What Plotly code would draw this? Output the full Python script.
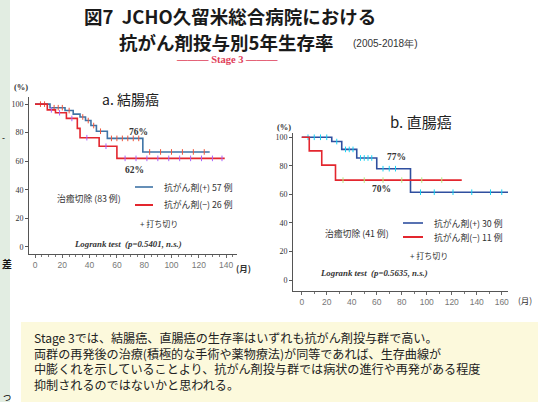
import plotly.graph_objects as go

W, H = 538, 402

# ---------------- data ----------------
# a. 結腸癌 (colon)
colon_pos_t = [0, 11, 22, 28, 33, 37, 41, 45, 53, 79, 128]
colon_pos_s = [100, 97.5, 95.5, 93, 91, 88.5, 85, 81, 76, 66.5, 66.5]
colon_pos_cens = [4, 7, 14, 17, 20, 25, 35, 39, 43, 48, 56, 60, 64, 68, 72, 76, 84, 92, 100, 108, 116, 124]
colon_neg_t = [0, 9, 15, 23, 31, 33, 47, 60, 139]
colon_neg_s = [100, 96, 94, 90, 83, 76.5, 70.5, 62, 62]
colon_neg_cens = [12, 18, 27, 38, 52, 66, 74, 82, 90, 98, 106, 114, 122, 130, 137]

# b. 直腸癌 (rectum)
rect_pos_t = [0, 24, 32, 44, 60, 87, 169]
rect_pos_s = [100, 97, 91.5, 85.5, 78, 61.5, 61.5]
rect_pos_cens = [5, 10, 15, 20, 28, 35, 38, 41, 47, 50, 53, 56, 65, 70, 75, 95, 106, 121, 136, 151, 160]
rect_neg_t = [0, 6, 16, 27, 128]
rect_neg_s = [100, 90.5, 80.5, 70, 70]
rect_neg_cens = [33, 50, 65, 80, 96, 112]

y_ticks = [0, 20, 40, 60, 80, 100]
colon_x_ticks = [0, 20, 40, 60, 80, 100, 120, 140]
rect_x_ticks = [0, 20, 40, 60, 80, 100, 120, 140, 160]

note_lines = [
    "Stage 3では、結腸癌、直腸癌の生存率はいずれも抗がん剤投与群で高い。",
    "両群の再発後の治療(積極的な手術や薬物療法)が同等であれば、生存曲線が",
    "中膨くれを示していることより、抗がん剤投与群では病状の進行や再発がある程度",
    "抑制されるのではないかと思われる。",
]

BLUE_A = "#3f74a6"
BLUE_B = "#2f4f9f"
RED = "#e3262e"


def px(x):
    return x / W


def py(y):
    return 1 - y / H


def surv_at(ts, ss, times):
    out = []
    for t in times:
        idx = max(i for i, v in enumerate(ts) if v <= t)
        out.append(ss[idx])
    return out


fig = go.Figure()


def add_group(t, s, cens, color, xa, ya):
    fig.add_trace(go.Scatter(x=t, y=s, mode="lines", line=dict(shape="hv", color=color, width=1.6),
                             xaxis=xa, yaxis=ya, showlegend=False, hoverinfo="skip"))
    fig.add_trace(go.Scatter(x=cens, y=surv_at(t, s, cens), mode="markers",
                             marker=dict(symbol="line-ns-open", size=4, line=dict(color=color, width=1)),
                             xaxis=xa, yaxis=ya, showlegend=False, hoverinfo="skip"))


add_group(colon_pos_t, colon_pos_s, colon_pos_cens, BLUE_A, "x", "y")
add_group(colon_neg_t, colon_neg_s, colon_neg_cens, RED, "x", "y")
add_group(rect_pos_t, rect_pos_s, rect_pos_cens, BLUE_B, "x2", "y2")
add_group(rect_neg_t, rect_neg_s, rect_neg_cens, RED, "x2", "y2")

tickfont_y = dict(family="Liberation Serif", size=8, color="#333")
tickfont_x = dict(family="Liberation Sans", size=8.5, color="#777")

common_y = dict(tickvals=y_ticks, ticks="outside", ticklen=3, tickcolor="#555", showline=True,
                linecolor="#555", linewidth=1, showgrid=False, zeroline=False, tickfont=tickfont_y)
common_x = dict(ticks="outside", ticklen=3, tickcolor="#666", showline=True, linecolor="#555",
                linewidth=1, showgrid=False, zeroline=False, tickfont=tickfont_x)

fig.update_layout(
    width=W, height=H, margin=dict(l=0, r=0, t=0, b=0),
    paper_bgcolor="white", plot_bgcolor="white",
    xaxis=dict(domain=[px(29), px(237)], range=[-4.4, 148], tickvals=colon_x_ticks,
               minor=dict(ticks="outside", ticklen=2, dtick=5, tickcolor="#777"), anchor="y", **common_x),
    yaxis=dict(domain=[py(254), py(97)], range=[-5, 105], anchor="x", **common_y),
    xaxis2=dict(domain=[px(293), px(508)], range=[-7, 165], tickvals=rect_x_ticks,
                minor=dict(ticks="outside", ticklen=2, dtick=10, tickcolor="#777"), anchor="y2", **common_x),
    yaxis2=dict(domain=[py(290.7), py(133)], range=[-7.5, 103], anchor="x2", **common_y),
)

shapes = []
# left green strip from the slide
shapes.append(dict(type="rect", xref="paper", yref="paper", x0=0, x1=px(10), y0=0, y1=1,
                   fillcolor="#e2ede2", line=dict(width=0), layer="below"))
# yellow note box
shapes.append(dict(type="rect", xref="paper", yref="paper", x0=px(21), x1=1, y0=0, y1=py(322),
                   fillcolor="#fcf9dc", line=dict(width=0), layer="below"))
# legend lines
for (x0, x1, y, c) in [(135, 153, 187, BLUE_A), (135, 153, 205, RED),
                       (403, 423, 223, BLUE_B), (403, 423, 237, RED)]:
    shapes.append(dict(type="line", xref="paper", yref="paper", x0=px(x0), x1=px(x1), y0=py(y), y1=py(y),
                       line=dict(color=c, width=2 if c == RED else 1.6)))
fig.update_layout(shapes=shapes)

JP = "Noto Sans CJK JP"
ann = []


def text(x, y, s, size, color="#222", family=JP, xanchor="left", yanchor="middle", align="left"):
    ann.append(dict(x=px(x), y=py(y), xref="paper", yref="paper", text=s, showarrow=False, align=align,
                    font=dict(family=family, size=size, color=color), xanchor=xanchor, yanchor=yanchor))


# titles
text(82, 16.5, "<b>図7  JCHO久留米総合病院における</b>", 18.5, "#1a1a1a")
text(117, 41.5, "<b>抗がん剤投与別5年生存率</b>", 18.5, "#1a1a1a")
text(351, 43, "(2005-2018年)", 10, "#333", family="Liberation Sans")
text(227, 60, "<b>――― Stage 3 ―――</b>", 10.5, "#e0405a", family="Liberation Serif", xanchor="center")

# chart a
text(12, 87, "<b>(%)</b>", 8.5, "#333", family="Liberation Serif")
text(100, 99, "a. 結腸癌", 14, "#222")
text(127, 132, "<b>76%</b>", 9.5, "#333", family="Liberation Serif")
text(123, 170, "<b>62%</b>", 9.5, "#333", family="Liberation Serif")
text(55, 198, "治癒切除 (83 例)", 8.8, "#333")
text(162, 187, "抗がん剤(+) 57 例", 8.8, "#333")
text(162, 205, "抗がん剤(−) 26 例", 8.8, "#333")
text(138, 223, "+ 打ち切り", 8, "#333")
text(72, 244, "<b><i>Logrank test</i>  <i>(p=0.5401, n.s.)</i></b>", 8.8, "#333", family="Liberation Serif")
text(234, 268, "<b>(月)</b>", 8.5, "#333")

# chart b
text(275, 127, "<b>(%)</b>", 8.5, "#333", family="Liberation Serif")
text(388, 121, "b. 直腸癌", 15, "#222")
text(385, 157, "<b>77%</b>", 9.5, "#333", family="Liberation Serif")
text(370, 189, "<b>70%</b>", 9.5, "#333", family="Liberation Serif")
text(323, 233, "治癒切除 (41 例)", 8.8, "#333")
text(432, 223, "抗がん剤(+) 30 例", 8.8, "#333")
text(432, 237, "抗がん剤(−) 11 例", 8.8, "#333")
text(408, 255, "+ 打ち切り", 8, "#333")
text(318, 273, "<b><i>Logrank test</i>  <i>(p=0.5635, n.s.)</i></b>", 8.8, "#333", family="Liberation Serif")
text(516, 300, "(月)", 8.5, "#333")

# note box text (one block keeps the line spacing even)
text(32, 360.5, "<br>".join(note_lines), 12.1, "#222")

# fragments of neighbouring slide text at the left edge
text(0, 138, "-", 9, "#111", family="Liberation Sans")
text(0, 263, "<b>差</b>", 10, "#111")
text(0, 395, "っ", 10, "#111")

fig.update_layout(annotations=ann)
fig.write_html("out.html")
